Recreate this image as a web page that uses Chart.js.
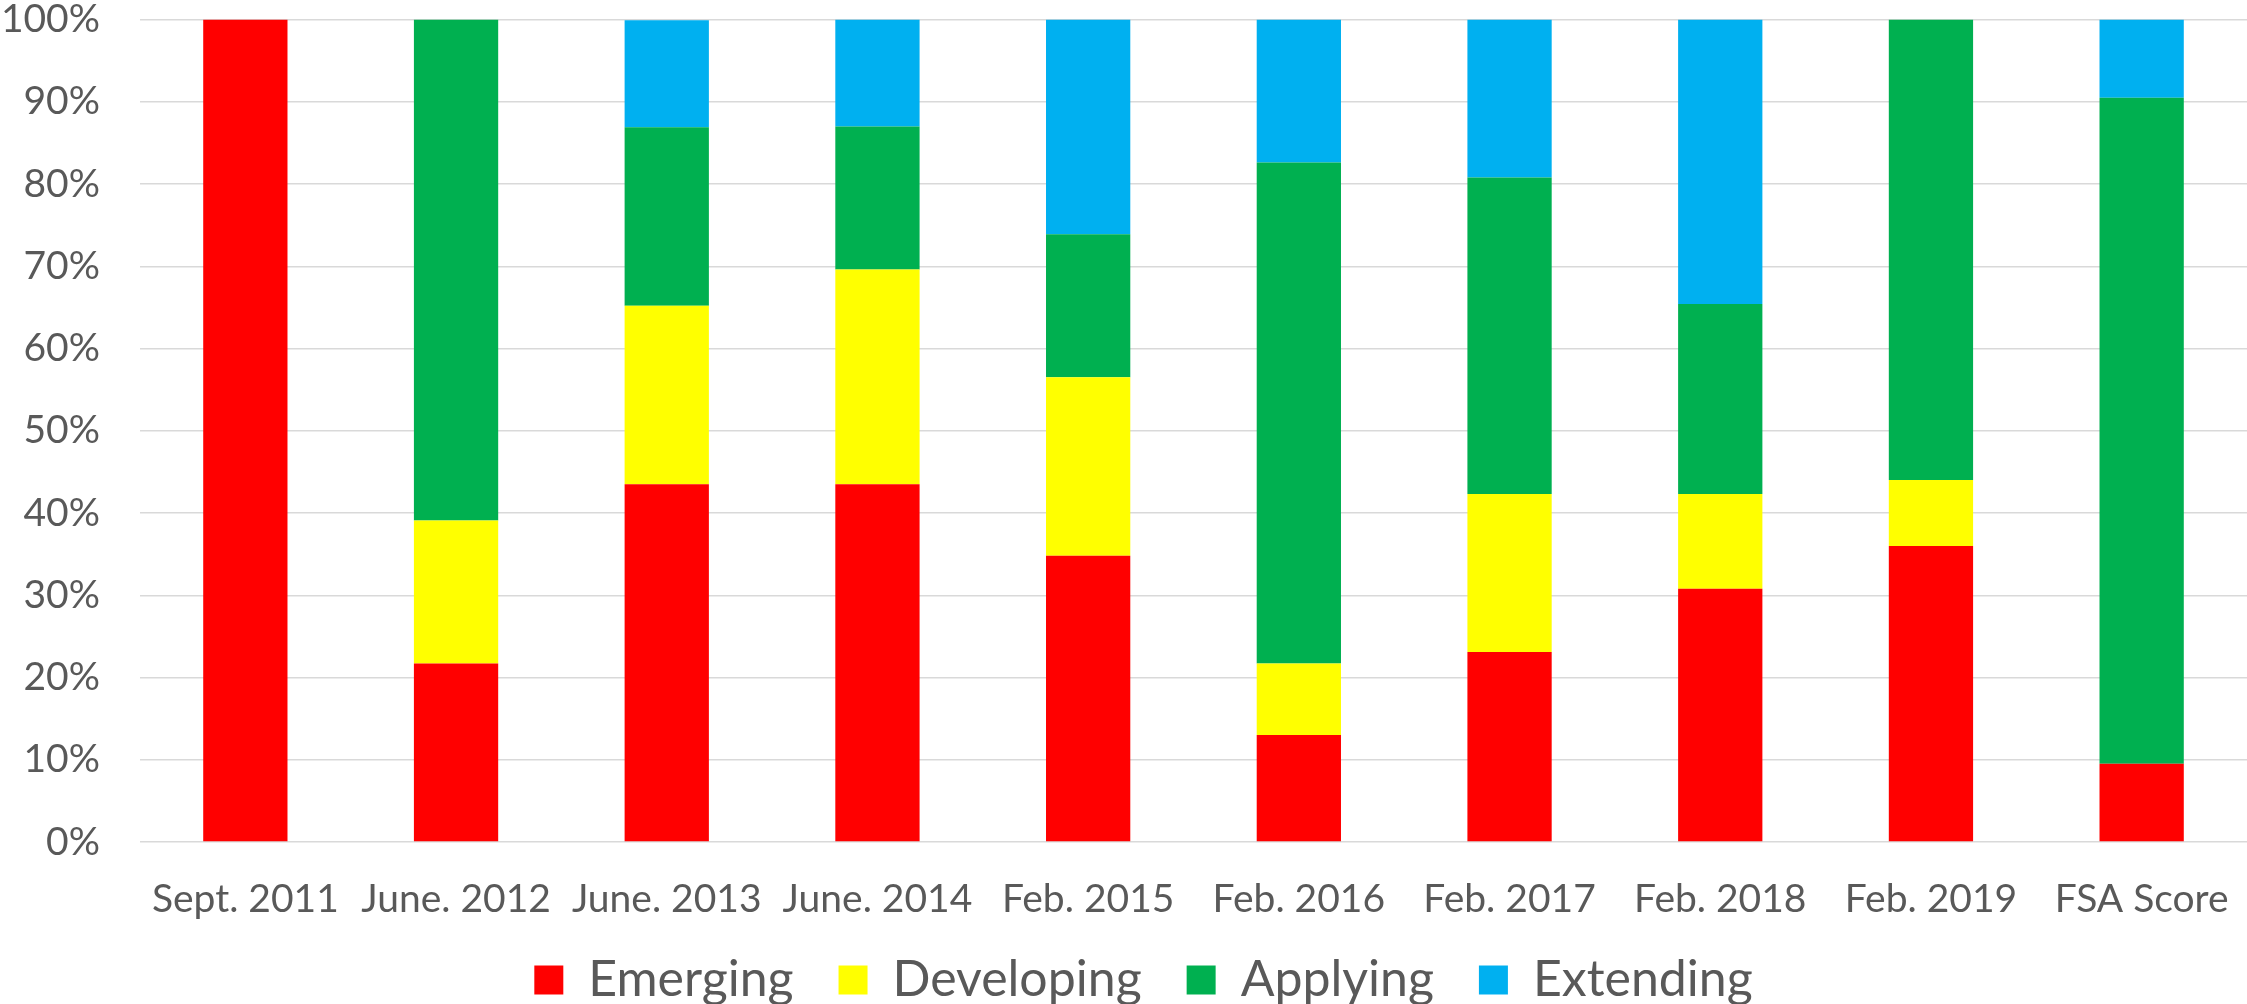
<!DOCTYPE html>
<html>
<head>
<meta charset="utf-8">
<title>Emerging / Developing / Applying / Extending</title>
<script src="https://cdn.jsdelivr.net/npm/chart.js@4.4.1/dist/chart.umd.min.js"></script>
<style>
  html, body { margin: 0; padding: 0; background: #ffffff; }
  #chartBox { width: 2247px; height: 1004px; position: relative; }
</style>
</head>
<body>
<div id="chartBox"><canvas id="levelsChart"></canvas></div>
<script>
// ===== DATA =====
const categories = [
  "Sept. 2011", "June. 2012", "June. 2013", "June. 2014", "Feb. 2015",
  "Feb. 2016", "Feb. 2017", "Feb. 2018", "Feb. 2019", "FSA Score",
];
const emerging   = [100, 21.7, 43.5, 43.5, 34.8, 13.0, 23.1, 30.8, 36, 9.5];
const developing = [0, 17.4, 21.7, 26.1, 21.7, 8.7, 19.2, 11.5, 8, 0];
const applying   = [0, 60.9, 21.7, 17.4, 17.4, 60.9, 38.5, 23.1, 56, 81.0];
const extending  = [0, 0, 13.0, 13.0, 26.1, 17.4, 19.2, 34.6, 0, 9.5];
const yTicks = [0, 10, 20, 30, 40, 50, 60, 70, 80, 90, 100];

// ===== HELPERS =====
const textColor = "#595959";
const fontFamily = "Lato, 'Liberation Sans', sans-serif";

function makeSeries(label, data, color) {
  return {
    label: label,
    data: data,
    backgroundColor: color,
    borderWidth: 0,
    categoryPercentage: 0.4,
    barPercentage: 1.0,
  };
}

// legend: fixed height, then its top edge moved up a bit after layout
const legendNudge = {
  id: "legendNudge",
  beforeInit(chart) {
    const fit = chart.legend.fit;
    chart.legend.fit = function () {
      fit.bind(chart.legend)();
      this.height = 72;
    };
  },
  afterLayout(chart) {
    const lg = chart.legend;
    lg.top -= 22;
    lg.left += 20;
    lg.right += 20;
  },
};

// ===== CHART =====
function initLevelsChart() {
  const ctx = document.getElementById("levelsChart").getContext("2d");
  new Chart(ctx, {
    type: "bar",
    data: {
      labels: categories,
      datasets: [
        makeSeries("Emerging", emerging, "#FF0000"),
        makeSeries("Developing", developing, "#FFFF00"),
        makeSeries("Applying", applying, "#00B050"),
        makeSeries("Extending", extending, "#00B0F0"),
      ],
    },
    options: {
      responsive: true,
      maintainAspectRatio: false,
      animation: false,
      layout: { padding: 0 },
      scales: {
        x: {
          stacked: true,
          grid: { display: false, drawTicks: false },
          border: { display: false },
          ticks: {
            color: textColor,
            padding: 34,
            font: { family: fontFamily, size: 39, lineHeight: 1.2 },
            maxRotation: 0,
            autoSkip: false,
          },
          afterFit(scale) {
            scale.height = 90;
            scale.paddingLeft = 0;
            scale.paddingRight = 0;
          },
        },
        y: {
          stacked: true,
          min: 0,
          max: 100,
          grid: { color: "#d9d9d9", lineWidth: 1.5, drawTicks: false },
          border: { display: false },
          afterBuildTicks(scale) {
            scale.ticks = yTicks.map((v) => ({ value: v }));
          },
          ticks: {
            color: textColor,
            padding: 40,
            font: { family: fontFamily, size: 39, lineHeight: 1.0 },
            callback: function (value) {
              return value + "%";
            },
          },
          afterFit(scale) {
            scale.width = 140;
            scale.paddingTop = 19.5;
            scale.paddingBottom = 0;
          },
        },
      },
      plugins: {
        tooltip: { enabled: false },
        legend: {
          position: "bottom",
          labels: {
            color: textColor,
            boxWidth: 29,
            boxHeight: 29,
            padding: 45,
            font: { family: fontFamily, size: 50 },
          },
        },
      },
    },
    plugins: [legendNudge],
  });
}

// ===== DOCUMENT READY =====
document.addEventListener("DOMContentLoaded", function () {
  if (typeof Chart !== "undefined") {
    initLevelsChart();
  }
});
</script>
</body>
</html>
